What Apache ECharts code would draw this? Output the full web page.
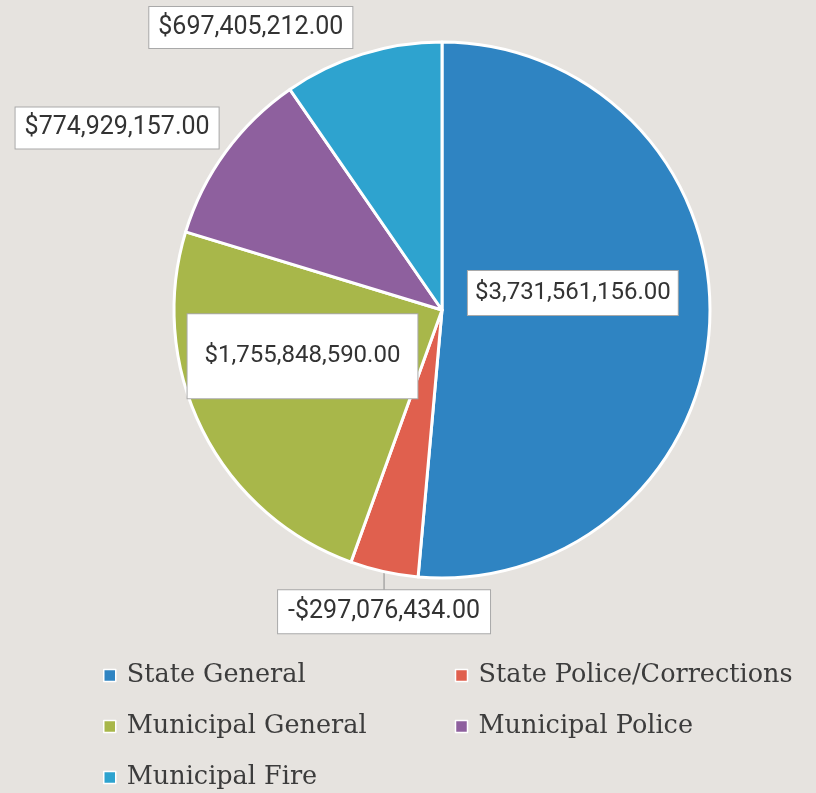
<!DOCTYPE html>
<html>
<head>
<meta charset="utf-8">
<script src="https://cdn.jsdelivr.net/npm/echarts@6/dist/echarts.min.js"></script>
<style>
  html, body { margin: 0; padding: 0; background: #e6e3df; }
  #chart { width: 816px; height: 793px; }
</style>
</head>
<body>
<div id="chart"></div>
<script>
// Budget categories and their signed amounts (dollars)
const categories = [
  'State General',
  'State Police/Corrections',
  'Municipal General',
  'Municipal Police',
  'Municipal Fire'
];
const amounts = [3731561156, -297076434, 1755848590, 774929157, 697405212];

// Slice colours
const colors = ['#2f84c2', '#e0604e', '#a8b74a', '#8e609e', '#2ea3cf'];

// Label placement per slice: where it sits, how it is nudged, box padding, text size
const labelPlacement = ['inside', 'below', 'inside', 'outside', 'outside'];
const labelShift = [[-6, -23], [0, 0], [-17, -15], [6, -18], [-2, -17]];
const labelPadding = [[10, 7], [9, 10], [30, 17], [8, 9], [8, 9]];
const labelFontSize = [24, 25, 24, 25, 25];

function money(v) {
  const s = Math.abs(v).toLocaleString('en-US', { minimumFractionDigits: 2, maximumFractionDigits: 2 });
  return (v < 0 ? '-$' : '$') + s;
}

const pieData = categories.map(function (name, i) {
  return {
    name: name,
    value: Math.abs(amounts[i]),
    signed: amounts[i],
    itemStyle: { color: colors[i] },
    label: {
      position: labelPlacement[i] === 'inside' ? 'inside' : 'outside',
      padding: labelPadding[i],
      fontSize: labelFontSize[i]
    },
    labelLine: {
      show: labelPlacement[i] === 'below',
      length: labelPlacement[i] === 'below' ? 18 : 10,
      length2: 0
    }
  };
});

const chart = echarts.init(document.getElementById('chart'), null, { renderer: 'canvas' });

chart.setOption({
  backgroundColor: '#e6e3df',
  animation: false,
  color: colors,
  legend: {
    data: categories,
    orient: 'horizontal',
    left: 103,
    top: 655,
    width: 710,
    padding: 0,
    icon: 'rect',
    itemWidth: 12,
    itemHeight: 12,
    itemGap: 10,
    itemStyle: { borderColor: '#ffffff', borderWidth: 1.5 },
    textStyle: {
      fontFamily: '"DejaVu Serif", serif',
      fontSize: 25.5,
      color: '#3c3c3c',
      width: 318,
      lineHeight: 41,
      padding: [0, 0, 0, 6]
    }
  },
  series: [{
    type: 'pie',
    center: [442, 310],
    radius: [0, 268],
    startAngle: 90,
    clockwise: true,
    avoidLabelOverlap: false,
    itemStyle: { borderColor: '#ffffff', borderWidth: 3 },
    label: {
      show: true,
      formatter: function (p) { return money(p.data.signed); },
      fontFamily: 'Roboto, sans-serif',
      color: '#333333',
      backgroundColor: '#ffffff',
      borderColor: '#a9a9a9',
      borderWidth: 1
    },
    labelLine: {
      lineStyle: { color: '#8a8a8a', width: 1 }
    },
    emphasis: { disabled: true },
    labelLayout: function (params) {
      const i = params.dataIndex;
      if (labelPlacement[i] === 'below' && params.labelLinePoints) {
        const pts = params.labelLinePoints;
        const x0 = pts[0][0];
        const yEnd = pts[pts.length - 1][1];
        return {
          x: x0,
          y: yEnd + 1,
          align: 'center',
          verticalAlign: 'top',
          labelLinePoints: [[x0, pts[0][1]], [x0, yEnd + 1]]
        };
      }
      return { dx: labelShift[i][0], dy: labelShift[i][1] };
    },
    data: pieData
  }]
});
</script>
</body>
</html>
